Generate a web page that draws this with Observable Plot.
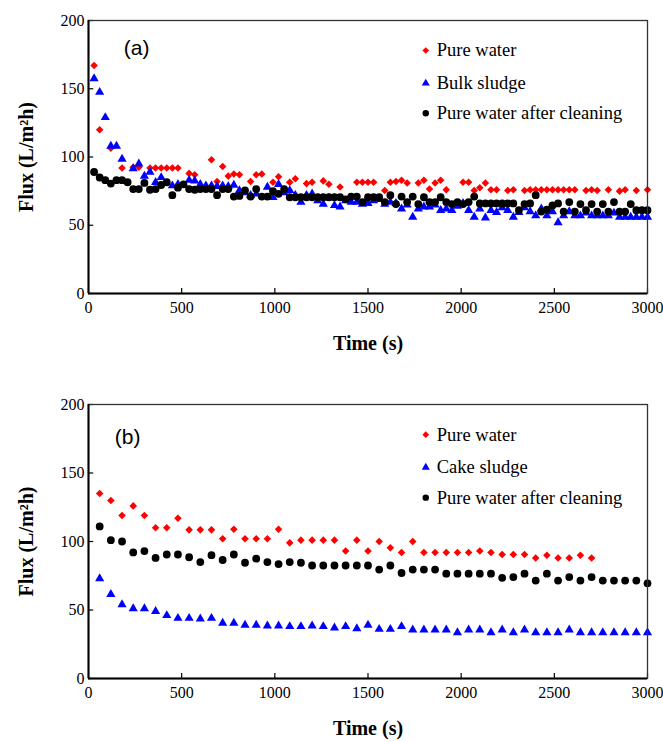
<!DOCTYPE html>
<html>
<head>
<meta charset="utf-8">
<script src="https://cdn.jsdelivr.net/npm/d3@7"></script>
<script src="https://cdn.jsdelivr.net/npm/@observablehq/plot@0.6"></script>
<style>
  html, body { margin: 0; padding: 0; background: #fff; }
  #wrap { width: 663px; }
  #wrap svg { display: block; }
  #wrap g[aria-label$="axis tick label"] text, #wrap g[aria-label$="axis label"] text, #wrap g[aria-description="legend"] text { font-family: "Liberation Serif", "Times New Roman", "DejaVu Serif", serif !important; }
  #wrap g[aria-label$="axis tick label"] text { font-size: 16px; }
  #wrap g[aria-label$="axis label"] text { font-weight: bold; font-size: 20px; }
  #wrap g[aria-description="legend"] text { font-size: 18.5px; }
  #wrap g[aria-description="tag"] text { font-family: "Liberation Sans", Arial, sans-serif !important; font-size: 21px; }
</style>
</head>
<body>
<div id="wrap"></div>
<script>
// ---------- Panel (a) data: [time (s), flux (L/m2h)] ----------
const pureWaterA = [[30,167],[60,120],[120,106.5],[180,92],[240,92.5],[270,92.5],[330,92],[360,92],[390,92],[420,92],[450,92],[480,92],[540,88],[570,87],[660,98],[690,82],[720,93],[750,86],[780,87.5],[810,87],[870,82],[900,87],[930,87.5],[990,81.5],[1020,85.5],[1080,81.5],[1110,84],[1170,80.5],[1200,81.5],[1260,82.5],[1290,80],[1350,78],[1440,81.5],[1470,81.5],[1500,81.5],[1530,81.5],[1590,75.5],[1620,81.5],[1650,82],[1680,83],[1710,81],[1770,81],[1800,83],[1830,76.5],[1860,81],[1890,83],[1920,76],[2010,81.5],[2040,81.5],[2070,75.5],[2100,77.5],[2130,81],[2160,76],[2190,76],[2250,75.5],[2280,76],[2340,75.5],[2370,76],[2400,76],[2430,76],[2460,76],[2490,76],[2520,76],[2550,76],[2580,76],[2610,76],[2670,75.5],[2700,76],[2730,75.5],[2790,76],[2850,75],[2880,76],[2940,75.5],[3000,76]];
const bulkSludgeA = [[30,157.5],[60,147.5],[90,129],[120,108],[150,108],[180,98.5],[240,91.5],[270,95],[300,86],[330,89],[360,81.5],[390,85],[450,79],[480,80],[540,83],[570,82.5],[600,80],[630,79],[660,79],[690,78.5],[720,79],[750,78.5],[780,79.5],[810,75.5],[840,74],[870,72],[900,73],[960,78],[990,70.5],[1020,80],[1050,74],[1080,75.5],[1110,72],[1140,67],[1170,72],[1200,73],[1230,68],[1260,65.5],[1290,70],[1320,64.5],[1350,63.5],[1380,68],[1410,67],[1440,67],[1470,65.5],[1500,66],[1530,68],[1560,69],[1590,65.5],[1620,67],[1650,66],[1680,62],[1710,65],[1740,56],[1770,62],[1800,63.5],[1830,63.5],[1860,65],[1890,61],[1920,62],[1950,61],[1980,64],[2010,66],[2040,61],[2070,56],[2100,62],[2130,55.5],[2160,61],[2190,59.5],[2220,63],[2250,61],[2280,56],[2310,59.5],[2340,63],[2370,60],[2400,57],[2430,62],[2460,57],[2490,60],[2520,52],[2550,57],[2580,60],[2610,57],[2640,57],[2670,59],[2700,57],[2730,57],[2760,57],[2790,57],[2820,59],[2850,56],[2880,56],[2910,56],[2940,56],[2970,56],[3000,56]];
const afterCleaningA = [[30,89],[60,85],[90,83],[120,80.5],[150,83],[180,83],[210,81.5],[240,76.5],[270,76.5],[300,81],[330,76],[360,76.5],[390,79.5],[420,81.5],[450,72],[480,77.5],[510,80],[540,76.5],[570,76],[600,76.5],[630,76.5],[660,76.5],[690,72],[720,76.5],[750,76.5],[780,71],[810,71.5],[840,75.5],[870,71],[900,76.5],[930,71],[960,71],[990,75],[1020,73],[1050,76.5],[1080,70.5],[1110,70.5],[1140,70.5],[1170,70.5],[1200,70.5],[1230,70.5],[1260,70.5],[1290,70.5],[1320,70.5],[1350,70.5],[1380,69],[1410,71],[1440,71],[1470,67],[1500,70.5],[1530,70.5],[1560,70.5],[1590,67],[1620,72],[1650,65.5],[1680,71],[1710,67],[1740,71],[1770,65.5],[1800,70.5],[1830,67],[1860,67],[1890,70.5],[1920,67],[1950,65.5],[1980,67],[2010,65.5],[2040,67],[2070,71],[2100,66],[2130,66],[2160,66],[2190,66],[2220,66],[2250,66],[2280,66],[2310,61],[2340,65.5],[2370,66],[2400,72],[2430,60],[2460,61.5],[2490,64.5],[2520,66],[2550,60],[2580,67],[2610,60],[2640,65.5],[2670,61],[2700,65.5],[2730,60],[2760,65.5],[2790,60],[2820,67],[2850,60],[2880,60],[2910,65.5],[2940,61],[2970,61],[3000,61]];

// ---------- Panel (b) data ----------
const pureWaterB = [[60,135],[120,130],[180,119],[240,126],[300,119],[360,110],[420,110],[480,117],[540,108.5],[600,108.5],[660,108.5],[720,102],[780,109],[840,102],[900,102],[960,102],[1020,109],[1080,99],[1140,101],[1200,101],[1260,101],[1320,101],[1380,93],[1440,101],[1500,93],[1560,100],[1620,95.5],[1680,92],[1740,100],[1800,92],[1860,92],[1920,92],[1980,92],[2040,92],[2100,93],[2160,92],[2220,90.5],[2280,90.5],[2340,90.5],[2400,88],[2460,90],[2520,88],[2580,88],[2640,90],[2700,88]];
const cakeSludgeB = [[60,73],[120,61.5],[180,54],[240,51],[300,51],[360,49],[420,46],[480,44],[540,44],[600,43.5],[660,44],[720,40.5],[780,40.5],[840,39],[900,39],[960,38.5],[1020,38.5],[1080,38],[1140,38],[1200,38.5],[1260,38],[1320,37],[1380,38],[1440,36.5],[1500,39],[1560,36],[1620,36],[1680,38],[1740,35.5],[1800,35.5],[1860,35.5],[1920,35.5],[1980,33.5],[2040,35.5],[2100,35.5],[2160,33.5],[2220,35.5],[2280,33.5],[2340,35.5],[2400,33.5],[2460,33.5],[2520,33.5],[2580,35.5],[2640,33.5],[2700,33.5],[2760,33.5],[2820,33.5],[2880,33.5],[2940,33.5],[3000,33.5]];
const afterCleaningB = [[60,111],[120,101],[180,100],[240,92],[300,93],[360,88],[420,90.5],[480,90.5],[540,88.5],[600,85],[660,90],[720,86.5],[780,90.5],[840,84.5],[900,87.5],[960,85],[1020,83.5],[1080,85],[1140,84.5],[1200,82.5],[1260,82.5],[1320,82.5],[1380,82.5],[1440,82.5],[1500,82.5],[1560,79.5],[1620,82.5],[1680,77],[1740,79.5],[1800,79.5],[1860,79.5],[1920,76.5],[1980,76.5],[2040,76.5],[2100,76.5],[2160,76.5],[2220,73.5],[2280,74],[2340,76.5],[2400,71.5],[2460,76.5],[2520,71.5],[2580,74],[2640,71.5],[2700,74],[2760,71.5],[2820,71.5],[2880,71.5],[2940,71.5],[3000,69.5]];

// ---------- Axes, legends ----------
const xTicks = [0, 500, 1000, 1500, 2000, 2500, 3000];
const yTicks = [0, 50, 100, 150, 200];
const xLabel = "Time (s)";
const yLabel = "Flux (L/m²h)";
const legendA = ["Pure water", "Bulk sludge", "Pure water after cleaning"];
const legendB = ["Pure water", "Cake sludge", "Pure water after cleaning"];
const legendRowsY = [178, 154, 132];
const legendX = 1810;
const seriesColors = ["#ff0000", "#0000ff", "#000000"];
const seriesSymbols = ["diamond2", "triangle", "circle"];
const seriesR = [3.4, 3.4, 3.9];

function panel(series, legendNames, tag, tagPos, opts) {
  const marks = [];
  series.forEach((s, i) => {
    marks.push(Plot.dot(s, {x: d => d[0], y: d => d[1], symbol: () => seriesSymbols[i], fill: seriesColors[i], stroke: "none", r: seriesR[i]}));
  });
  // legend
  const leg = legendNames.map((name, i) => ({name, i, y: legendRowsY[i]}));
  marks.push(Plot.dot(leg, {x: () => legendX, y: "y", symbol: d => seriesSymbols[d.i], fill: d => seriesColors[d.i], r: d => seriesR[d.i] * 0.85, stroke: "none"}));
  marks.push(Plot.text(leg, {x: () => legendX, dx: 11, y: "y", text: "name", textAnchor: "start", fill: "black", ariaDescription: "legend"}));
  // panel tag
  marks.push(Plot.text([tag], {x: () => tagPos[0], y: () => tagPos[1], text: d => d, fill: "black", ariaDescription: "tag"}));
  // inward ticks
  marks.push(Plot.ruleX(xTicks, {x: d => d, y1: 0, y2: 3.6, stroke: "black", strokeWidth: 1.2}));
  marks.push(Plot.ruleY(yTicks, {y: d => d, x1: 0, x2: 28, stroke: "black", strokeWidth: 1.2}));
  marks.push(Plot.frame({stroke: "#333", strokeWidth: 1.3}));
  marks.push(Plot.ruleY([0], {stroke: "black", strokeWidth: 2}));
  marks.push(Plot.ruleX([0], {stroke: "black", strokeWidth: 2}));
  marks.push(Plot.axisX({ticks: xTicks, tickFormat: d => String(d), tickSize: 0, tickPadding: 8, label: xLabel, labelAnchor: "center", labelOffset: opts.xLabelOffset, labelArrow: "none"}));
  marks.push(Plot.axisY({ticks: yTicks, tickFormat: d => String(d), tickSize: 0, tickPadding: 4, label: yLabel, labelAnchor: "center", labelOffset: 70, labelArrow: "none"}));
  return Plot.plot({
    width: 663,
    height: opts.height,
    marginTop: opts.marginTop,
    marginBottom: opts.marginBottom,
    marginLeft: 88,
    marginRight: 16,
    x: {domain: [0, 3000]},
    y: {domain: [0, 200]},
    style: {fontSize: "16px", color: "black", background: "white", overflow: "visible"},
    marks
  });
}

const wrap = document.getElementById("wrap");
wrap.appendChild(panel([pureWaterA, bulkSludgeA, afterCleaningA], legendA, "(a)", [258, 180],
  {height: 360, marginTop: 20, marginBottom: 67, xLabelOffset: 56}));
wrap.appendChild(panel([pureWaterB, cakeSludgeB, afterCleaningB], legendB, "(b)", [210, 176],
  {height: 382, marginTop: 44, marginBottom: 64, xLabelOffset: 56}));
</script>
</body>
</html>
